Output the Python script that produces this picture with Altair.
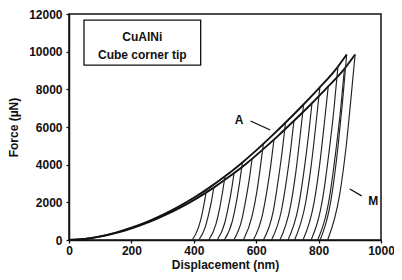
import altair as alt
import pandas as pd

# Loading branch A and branch B (displacement nm, force uN)
load_f = [0, 55, 190, 390, 650, 960, 1330, 1760, 2240, 2780, 3380, 4040, 4760, 5530, 6330, 7170, 8040, 8950, 9850]
load_h_a = [0, 50, 100, 150, 200, 250, 300, 350, 400, 450, 500, 550, 600, 650, 700, 750, 800, 850, 890]
load_h_b = [0, 52, 103, 155, 206, 258, 309, 361, 412, 464, 515, 567, 618, 670, 721, 773, 824, 876, 917]

# Unloading curves: displacement points (final depth -> max depth) and forces
unload_h = [
    [395, 415, 426, 434, 441],
    [416, 437, 448, 457, 464],
    [448, 471, 483, 492, 500],
    [475, 499, 511, 521, 529],
    [498, 524, 537, 547, 556],
    [528, 554, 567, 578, 587],
    [559, 587, 602, 613, 623],
    [591, 620, 635, 647, 657],
    [623, 655, 670, 683, 694],
    [649, 681, 697, 710, 721],
    [676, 710, 727, 740, 752],
    [702, 736, 753, 767, 779],
    [723, 759, 777, 791, 804],
    [750, 786, 804, 818, 831],
    [776, 814, 833, 849, 862],
    [797, 835, 854, 870, 883],
    [805, 843, 862, 877, 890],
    [829, 868, 888, 903, 917],
]
unload_f = [
    [0, 670, 1340, 2010, 2680],
    [0, 700, 1395, 2090, 2790],
    [0, 845, 1690, 2535, 3380],
    [0, 890, 1780, 2670, 3560],
    [0, 1030, 2060, 3090, 4120],
    [0, 1080, 2165, 3250, 4330],
    [0, 1280, 2555, 3830, 5110],
    [0, 1335, 2670, 4005, 5340],
    [0, 1560, 3115, 4670, 6230],
    [0, 1580, 3165, 4750, 6330],
    [0, 1800, 3605, 5410, 7210],
    [0, 1820, 3645, 5470, 7290],
    [0, 2030, 4055, 6080, 8110],
    [0, 2040, 4085, 6130, 8170],
    [0, 2305, 4610, 6915, 9220],
    [0, 2280, 4560, 6840, 9120],
    [0, 2460, 4925, 7390, 9850],
    [0, 2460, 4925, 7390, 9850],
]

x_ticks = [0, 200, 400, 600, 800, 1000]
y_ticks = [0, 2000, 4000, 6000, 8000, 10000, 12000]

rows = []
for h, f in zip(load_h_a, load_f):
    rows.append({"curve": "LA", "h": h, "f": f})
for h, f in zip(load_h_b, load_f):
    rows.append({"curve": "LB", "h": h, "f": f})
load_df = pd.DataFrame(rows)

urows = []
for i, (hs, fs) in enumerate(zip(unload_h, unload_f)):
    for h, f in zip(hs, fs):
        urows.append({"curve": f"U{i}", "h": h, "f": f})
unload_df = pd.DataFrame(urows)

FONT = "Liberation Sans"
xs = alt.Scale(domain=[0, 1000], nice=False)
ys = alt.Scale(domain=[0, 12000], nice=False)

x_axis = alt.Axis(values=x_ticks, title="Displacement (nm)", format="d", labelPadding=2, titlePadding=3)
y_axis = alt.Axis(values=y_ticks, title="Force (µN)", format="d", labelPadding=4, titlePadding=8)

x_enc = alt.X("h:Q", scale=xs, axis=x_axis)
y_enc = alt.Y("f:Q", scale=ys, axis=y_axis)

loading = alt.Chart(load_df).mark_line(color="#111", strokeWidth=1.9, interpolate="monotone").encode(
    x=x_enc, y=y_enc, detail="curve:N", order="h:Q")
unloading = alt.Chart(unload_df).mark_line(color="#222", strokeWidth=1.15, interpolate="monotone").encode(
    x=x_enc, y=y_enc, detail="curve:N", order="h:Q")

box = alt.Chart(pd.DataFrame({"a": [0]})).mark_rect(fill="white", stroke="#111", strokeWidth=1.3).encode(
    x=alt.datum(48, scale=xs, axis=x_axis), x2=alt.datum(422),
    y=alt.datum(11680, scale=ys, axis=y_axis), y2=alt.datum(9290))

box_text = alt.Chart(pd.DataFrame({"t": ["CuAlNi", "Cube corner tip"], "yy": [10800, 9830]})).mark_text(
    font=FONT, fontWeight="bold", fontSize=12, color="#111", align="center", baseline="middle").encode(
    x=alt.datum(235, scale=xs, axis=x_axis), y=alt.Y("yy:Q", scale=ys, axis=y_axis), text="t:N")

labels = alt.Chart(pd.DataFrame({"t": ["A", "M"], "hx": [545, 975], "fy": [6370, 2070]})).mark_text(
    font=FONT, fontWeight="bold", fontSize=12, color="#111", align="center", baseline="middle").encode(
    x=alt.X("hx:Q", scale=xs, axis=x_axis), y=alt.Y("fy:Q", scale=ys, axis=y_axis), text="t:N")

leaders = alt.Chart(pd.DataFrame({"x1": [582, 900], "x2": [645, 938], "y1": [6320, 2710], "y2": [5840, 2340]})).mark_rule(
    color="#111", strokeWidth=1.3).encode(
    x=alt.X("x1:Q", scale=xs, axis=x_axis), x2="x2:Q", y=alt.Y("y1:Q", scale=ys, axis=y_axis), y2="y2:Q")

chart = alt.layer(loading, unloading, box, box_text, labels, leaders).properties(
    width=312, height=226,
    autosize=alt.AutoSizeParams(type="none"),
    padding={"left": 61, "top": 6, "right": 13, "bottom": 32},
    background="white",
).configure_view(stroke="#111", strokeWidth=1.5).configure_axis(
    grid=False, labelOverlap=False, labelFlush=False,
    labelFont=FONT, labelFontWeight="bold", labelFontSize=12,
    titleFont=FONT, titleFontWeight="bold", titleFontSize=12,
    labelColor="#111", titleColor="#111", tickColor="#111",
    domainColor="#111", domainWidth=1.5, tickSize=3, tickWidth=1.3,
)

chart.save("out.html", embed_options={"renderer": "svg", "actions": False})
